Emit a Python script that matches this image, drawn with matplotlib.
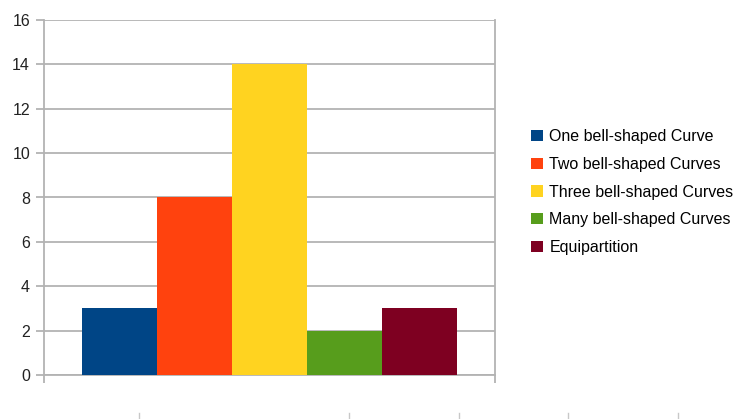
import matplotlib
matplotlib.use("Agg")
import matplotlib.pyplot as plt
from matplotlib.lines import Line2D
from matplotlib.patches import Patch

series = ["One bell-shaped Curve", "Two bell-shaped Curves", "Three bell-shaped Curves",
          "Many bell-shaped Curves", "Equipartition"]
values = [3, 8, 14, 2, 3]
colors = ["#004586", "#ff420e", "#ffd320", "#579d1c", "#7e0021"]
yticks = [0, 2, 4, 6, 8, 10, 12, 14, 16]

plt.rcParams['font.family'] = ['Liberation Sans', 'DejaVu Sans']
fig = plt.figure(figsize=(7.39, 4.19), dpi=100)
W, H = 739, 419
ax = fig.add_axes([44 / W, 1 - 375 / H, (495 - 44) / W, (375 - 20) / H])

n = len(values)
bw = 0.8333 / n
for i, (v, c, s) in enumerate(zip(values, colors, series)):
    x = -0.8333 / 2 + bw * (i + 0.5)
    ax.bar(x, v, width=bw, color=c, label=s, zorder=3)

ax.set_xlim(-0.5, 0.5)
ax.set_ylim(0, 16)
ax.set_yticks(yticks)
ax.set_yticklabels([str(t) for t in yticks], fontsize=11.5, color="#222222")
ax.yaxis.grid(True, color="#b3b3b3", linewidth=1.3, zorder=0)
ax.set_xticks([-0.5, 0.5])
ax.set_xticklabels([])
ax.tick_params(axis='y', length=6, width=1.3, color="#b3b3b3", pad=4)
ax.tick_params(axis='x', length=6, width=1.3, color="#b3b3b3")
for sp in ["top"]:
    ax.spines[sp].set_visible(False)
for sp in ["left", "right", "bottom"]:
    ax.spines[sp].set_color("#b3b3b3")
    ax.spines[sp].set_linewidth(1.3)

handles = [Patch(facecolor=c, edgecolor='none') for c in colors]
fig.legend(handles, series, loc='upper left', bbox_to_anchor=(525 / W, 1 - 123 / H),
           frameon=False, fontsize=11.5, handlelength=0.7, handleheight=0.7,
           handletextpad=0.42, labelspacing=0.79, borderaxespad=0)

# small stray tick marks at the bottom edge
for px in [139, 349, 459, 568, 678]:
    fig.add_artist(Line2D([px / W, px / W], [0, 6 / H], color="#c8c8c8", linewidth=1))

fig.savefig("out.png", dpi=100)
